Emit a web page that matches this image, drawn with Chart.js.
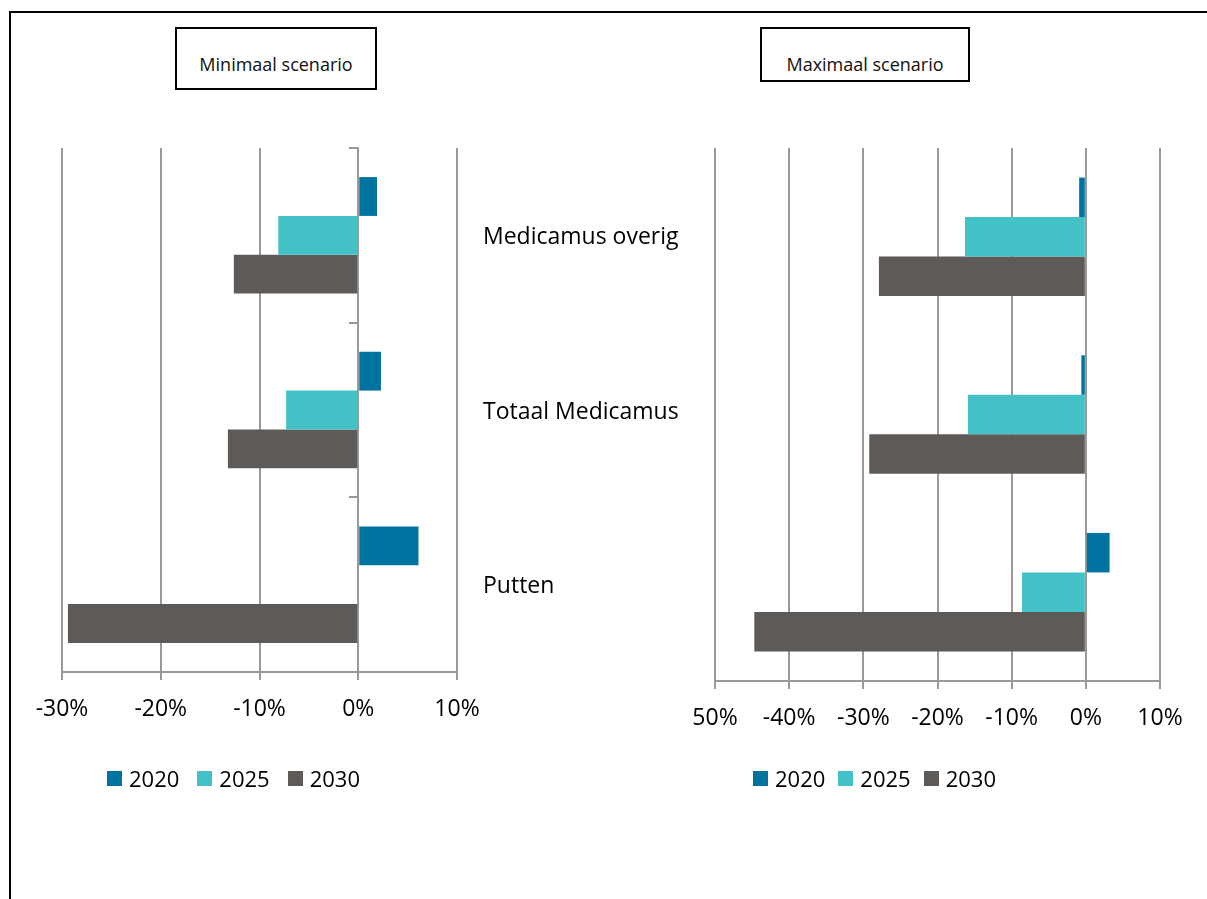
<!DOCTYPE html>
<html>
<head>
<meta charset="utf-8">
<script src="https://cdn.jsdelivr.net/npm/chart.js@4.4.1/dist/chart.umd.min.js"></script>
<style>
    body {
        margin: 0;
        width: 1207px;
        height: 899px;
        overflow: hidden;
        background: #fff;
        font-family: "Open Sans", sans-serif;
        position: relative;
    }
    .frame {
        position: absolute;
        left: 9px;
        top: 11px;
        width: 1400px;
        height: 1000px;
        border-left: 2px solid #000;
        border-top: 2px solid #000;
    }
    .chart-box {
        position: absolute;
        left: 0;
        top: 0;
        width: 1207px;
        height: 899px;
    }
    .title {
        position: absolute;
        box-sizing: border-box;
        border: 2px solid #000;
        background: #fff;
        font-size: 18px;
        line-height: 24px;
        padding-top: 23px;
        text-align: center;
        color: #111;
    }
    .legend {
        position: absolute;
        display: flex;
        align-items: center;
        font-size: 22px;
        line-height: 30px;
        color: #000;
    }
    .legend .item { display: flex; align-items: center; }
    .legend .swatch { width: 15px; height: 15px; margin-right: 7px; }
</style>
</head>
<body>
<div class="frame"></div>
<div class="chart-box"><canvas id="minChart"></canvas></div>
<div class="chart-box"><canvas id="maxChart"></canvas></div>
<div class="title" style="left:175px;top:27px;width:202px;height:63px;">Minimaal scenario</div>
<div class="title" style="left:760px;top:27px;width:210px;height:55px;">Maximaal scenario</div>
<div class="legend" id="minLegend" style="left:107px;top:763px;"></div>
<div class="legend" id="maxLegend" style="left:753px;top:763px;"></div>

<script>
const categories = ["Medicamus overig", "Totaal Medicamus", "Putten"];
const seriesLabels = ["2020", "2025", "2030"];
const seriesColors = ["#0073a0", "#43c1c6", "#5e5a57"];

// percentages
const minValues2020 = [1.9, 2.3, 6.1];
const minValues2025 = [-8.1, -7.3, -0.1];
const minValues2030 = [-12.6, -13.2, -29.4];

const maxValues2020 = [-0.9, -0.6, 3.2];
const maxValues2025 = [-16.3, -15.9, -8.6];
const maxValues2030 = [-27.9, -29.2, -44.7];

const minTickLabels = ["-30%", "-20%", "-10%", "0%", "10%"];
const maxTickLabels = ["50%", "-40%", "-30%", "-20%", "-10%", "0%", "10%"];

const GRID = "#999999";
const AXIS_FONT = { family: "'Open Sans', sans-serif", size: 23 };

function buildDatasets(values) {
    return values.map((data, i) => ({
        label: seriesLabels[i],
        data,
        backgroundColor: seriesColors[i],
        borderWidth: 0,
        barPercentage: 1,
        categoryPercentage: 0.667
    }));
}

function valueAxis(min, max, labels, labelPadding) {
    return {
        type: "linear",
        position: "bottom",
        min,
        max,
        afterFit(scale) { scale.height = 60; },
        ticks: {
            stepSize: 10,
            color: "#000",
            font: AXIS_FONT,
            padding: labelPadding,
            maxRotation: 0,
            autoSkip: false,
            callback: (value, index) => labels[index]
        },
        grid: {
            color: GRID,
            lineWidth: 2,
            tickLength: 8
        },
        border: { display: true, color: GRID, width: 2 }
    };
}

function buildLegend(id, gap) {
    const box = document.getElementById(id);
    seriesLabels.forEach((label, i) => {
        const item = document.createElement("div");
        item.className = "item";
        if (i < seriesLabels.length - 1) item.style.marginRight = gap + "px";
        const swatch = document.createElement("span");
        swatch.className = "swatch";
        swatch.style.background = seriesColors[i];
        const text = document.createElement("span");
        text.textContent = label;
        item.appendChild(swatch);
        item.appendChild(text);
        box.appendChild(item);
    });
}

// left chart: category names sit on a second axis to its right
new Chart(document.getElementById("minChart"), {
    type: "bar",
    data: {
        labels: categories,
        datasets: buildDatasets([minValues2020, minValues2025, minValues2030])
    },
    options: {
        indexAxis: "y",
        responsive: true,
        maintainAspectRatio: false,
        animation: false,
        layout: { padding: { left: 62, right: 500, top: 148, bottom: 167 } },
        plugins: { legend: { display: false }, tooltip: { enabled: false } },
        scales: {
            x: valueAxis(-30, 10, minTickLabels, 16),
            y: {
                type: "category",
                position: { x: 0 },
                ticks: { display: false },
                grid: {
                    drawOnChartArea: false,
                    drawTicks: true,
                    tickLength: 8,
                    color: GRID,
                    lineWidth: 2
                },
                border: { display: true, color: GRID, width: 2 }
            },
            names: {
                type: "category",
                axis: "y",
                position: "right",
                afterFit(scale) { scale.width = 250; },
                ticks: {
                    color: "#000",
                    font: AXIS_FONT,
                    crossAlign: "near",
                    padding: 26,
                    labelOffset: 2
                },
                grid: { display: false, drawTicks: false },
                border: { display: false }
            }
        }
    }
});

new Chart(document.getElementById("maxChart"), {
    type: "bar",
    data: {
        labels: categories,
        datasets: buildDatasets([maxValues2020, maxValues2025, maxValues2030])
    },
    options: {
        indexAxis: "y",
        responsive: true,
        maintainAspectRatio: false,
        animation: false,
        layout: { padding: { left: 483, right: 47, top: 148, bottom: 158 } },
        plugins: { legend: { display: false }, tooltip: { enabled: false } },
        scales: {
            x: valueAxis(-50, 10, maxTickLabels, 16),
            y: {
                type: "category",
                position: "left",
                afterFit(scale) { scale.width = 232; },
                ticks: { display: false },
                grid: { display: false },
                border: { display: false }
            }
        }
    }
});

buildLegend("minLegend", 18);
buildLegend("maxLegend", 13);
</script>
</body>
</html>
